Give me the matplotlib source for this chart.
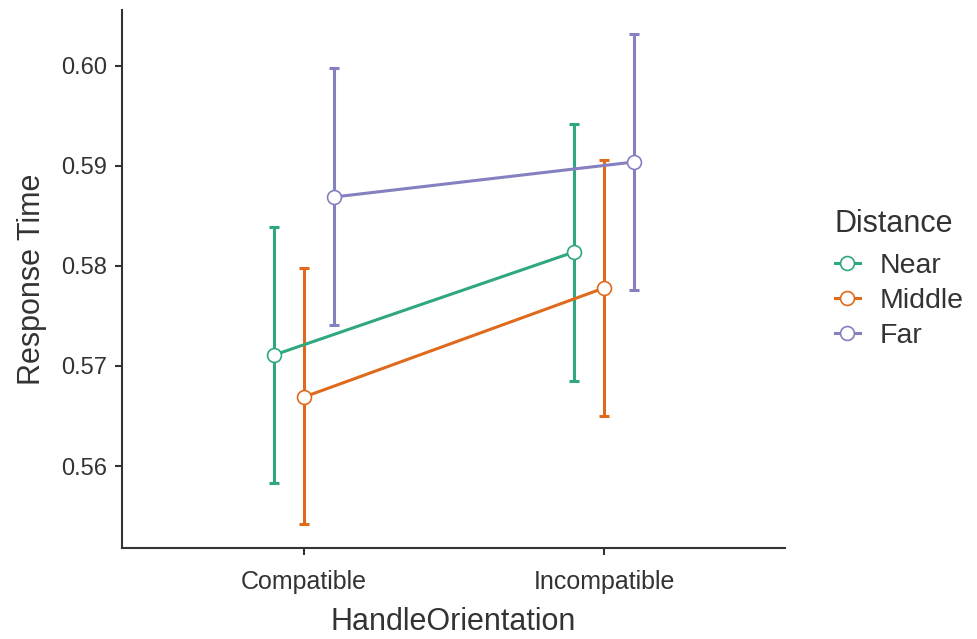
import matplotlib
matplotlib.use("Agg")
import matplotlib.pyplot as plt
import numpy as np

plt.rcParams['font.family'] = ['Liberation Sans', 'DejaVu Sans']

orientations = ['Compatible', 'Incompatible']
distances = ['Near', 'Middle', 'Far']
colors = ['#2fa882', '#e06a1b', '#8580c0']

mean_rt = {
    'Near':   [0.5711, 0.5814],
    'Middle': [0.5669, 0.5778],
    'Far':    [0.5869, 0.5904],
}
lower_ci = {
    'Near':   [0.5583, 0.5685],
    'Middle': [0.5542, 0.5650],
    'Far':    [0.5741, 0.5776],
}
upper_ci = {
    'Near':   [0.5839, 0.5942],
    'Middle': [0.5798, 0.5906],
    'Far':    [0.5998, 0.6032],
}

fig = plt.figure(figsize=(9.78, 6.39), dpi=100)
ax = fig.add_axes([0.1247, 0.1424, 0.678, 0.842])

x = np.arange(1, len(orientations) + 1)
offsets = [-0.1, 0.0, 0.1]
handles = []
for d, c, off in zip(distances, colors, offsets):
    xs = x + off
    m = np.array(mean_rt[d])
    lo = m - np.array(lower_ci[d])
    hi = np.array(upper_ci[d]) - m
    ax.errorbar(xs, m, yerr=[lo, hi], fmt='none', ecolor=c, elinewidth=2.2,
                capsize=3.5, capthick=2.2, zorder=2)
    h, = ax.plot(xs, m, color=c, lw=2.2, marker='o', markersize=10,
                 markerfacecolor='white', markeredgecolor=c, markeredgewidth=1.2,
                 zorder=3, label=d)
    handles.append(h)

ax.set_xlim(0.393, 2.603)
ax.set_ylim(0.5518, 0.6056)
ax.set_xticks(x)
ax.set_xticklabels(orientations)
ax.set_yticks([0.56, 0.57, 0.58, 0.59, 0.60])
ax.set_yticklabels(['0.56', '0.57', '0.58', '0.59', '0.60'])

for s in ['top', 'right']:
    ax.spines[s].set_visible(False)
for s in ['left', 'bottom']:
    ax.spines[s].set_color('#333333')
    ax.spines[s].set_linewidth(1.5)
ax.tick_params(axis='both', colors='#333333', width=1.5, length=5,
               labelcolor='#333333', pad=6)
ax.tick_params(axis='y', labelsize=17)
ax.tick_params(axis='x', labelsize=18, pad=11)

ax.set_xlabel('HandleOrientation', fontsize=22, color='#333333', labelpad=9)
ax.set_ylabel('Response Time', fontsize=22, color='#333333', labelpad=10)

leg = ax.legend(handles=handles, title='Distance', loc='center left',
                bbox_to_anchor=(1.036, 0.50), frameon=False, fontsize=20.5,
                title_fontsize=22, handlelength=0.9, handletextpad=0.7,
                labelspacing=0.33)
leg._legend_box.align = 'left'
leg._legend_box.sep = 10
for t in leg.get_texts():
    t.set_color('#333333')
leg.get_title().set_color('#333333')

fig.savefig('out.png', dpi=100)
